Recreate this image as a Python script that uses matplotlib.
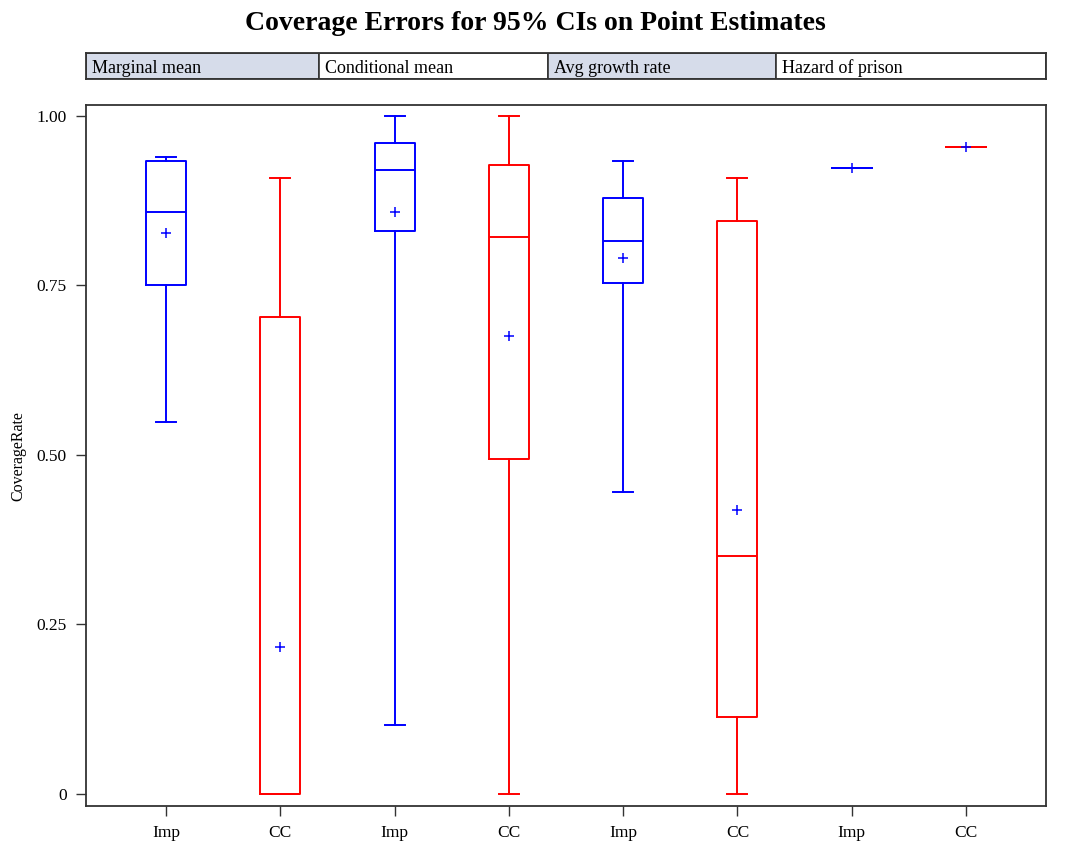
import matplotlib
matplotlib.use("Agg")
import matplotlib.pyplot as plt
from matplotlib.patches import Rectangle

# panel headers and box labels
groups = ["Marginal mean", "Conditional mean", "Avg growth rate", "Hazard of prison"]
methods = ["Imp", "CC", "Imp", "CC", "Imp", "CC", "Imp", "CC"]

# box statistics (coverage rate)
whis_hi = [0.939, 0.909, 1.000, 1.000, 0.934, 0.909, 0.924, 0.954]
q3 = [0.934, 0.704, 0.960, 0.928, 0.879, 0.845, 0.924, 0.954]
med = [0.859, 0.000, 0.920, 0.822, 0.816, 0.351, 0.924, 0.954]
q1 = [0.750, 0.000, 0.830, 0.494, 0.754, 0.113, 0.924, 0.954]
whis_lo = [0.549, 0.000, 0.102, 0.000, 0.445, 0.000, 0.924, 0.954]
means = [0.828, 0.217, 0.859, 0.675, 0.790, 0.418, 0.924, 0.954]

colors = {"Imp": "#0000ff", "CC": "#ff0000"}
serif = "Liberation Serif"

fig = plt.figure(figsize=(10.71, 8.48), dpi=100)
ax = fig.add_axes([0.0803, 0.0495, 0.8964, 0.8265])

positions = list(range(1, len(methods) + 1))
for i, m in enumerate(methods):
    st = [{
        "med": med[i], "q1": q1[i], "q3": q3[i],
        "whislo": whis_lo[i], "whishi": whis_hi[i],
        "mean": means[i], "fliers": [],
    }]
    c = colors[m]
    lp = dict(color=c, linewidth=1.4)
    ax.bxp(st, positions=[positions[i]], widths=0.35, capwidths=0.175,
           showmeans=True, showfliers=False, patch_artist=False,
           boxprops=lp, whiskerprops=lp, capprops=lp, medianprops=lp,
           meanprops=dict(marker="+", markeredgecolor="#0000ff",
                          markerfacecolor="#0000ff", markersize=7,
                          markeredgewidth=1.1, linestyle="none"))

ax.set_xlim(0.3, 8.7)
ax.set_ylim(-0.018, 1.016)
ax.set_xticks(positions)
ax.set_xticklabels(methods, fontfamily=serif, fontsize=12.5)
ax.set_yticks([0, 0.25, 0.5, 0.75, 1.0])
ax.set_yticklabels(["0", "0.25", "0.50", "0.75", "1.00"], fontfamily=serif, fontsize=12.5)
ax.tick_params(direction="out", length=7, width=1, color="#333333", pad=7)
ax.set_ylabel("CoverageRate", fontfamily=serif, fontsize=11.5, labelpad=7)
for s in ax.spines.values():
    s.set_color("#333333")
    s.set_linewidth(1.3)

# header strip with panel names
hx = fig.add_axes([0.0803, 0.9068, 0.8964, 0.0307])
hx.set_xlim(0, 1)
hx.set_ylim(0, 1)
hx.set_xticks([])
hx.set_yticks([])
edges = [0.0, 0.243, 0.481, 0.719, 1.0]
for k, g in enumerate(groups):
    fill = "#d6dcea" if k % 2 == 0 else "white"
    hx.add_patch(Rectangle((edges[k], 0), edges[k + 1] - edges[k], 1,
                           facecolor=fill, edgecolor="#333333", linewidth=1.2))
    hx.text(edges[k] + 0.006, 0.42, g, ha="left", va="center",
            fontfamily=serif, fontsize=13)
for s in hx.spines.values():
    s.set_color("#333333")
    s.set_linewidth(1.3)

fig.suptitle("Coverage Errors for 95% CIs on Point Estimates", y=0.987,
             fontfamily=serif, fontweight="bold", fontsize=20)

fig.savefig("out.png", dpi=100, facecolor="white")
